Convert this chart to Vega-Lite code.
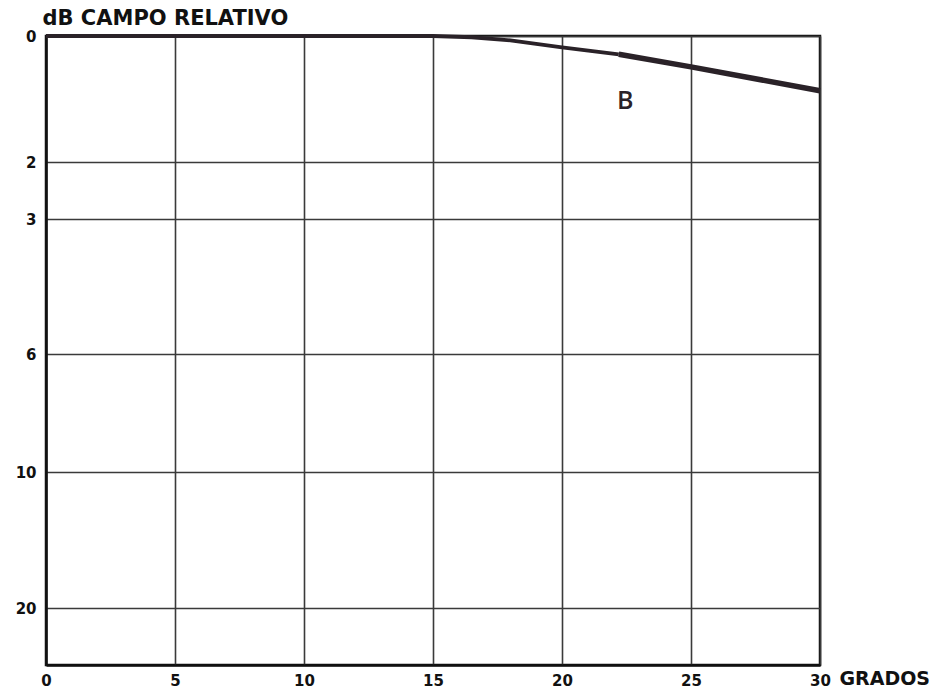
{
  "$schema": "https://vega.github.io/schema/vega-lite/v6.json",
  "autosize": "none",
  "width": 774,
  "height": 629,
  "padding": {"left": 46, "top": 36, "right": 123, "bottom": 24},
  "background": "white",
  "config": {
    "view": {"stroke": "#111", "strokeWidth": 2.5},
    "font": "DejaVu Sans"
  },
  "data": {
    "values": [
      {"grados": 0, "db": 0},
      {"grados": 5, "db": 0},
      {"grados": 10, "db": 0},
      {"grados": 15, "db": 0},
      {"grados": 16.5, "db": 0.02},
      {"grados": 18, "db": 0.07},
      {"grados": 20, "db": 0.18},
      {"grados": 22.2, "db": 0.29},
      {"grados": 25, "db": 0.49},
      {"grados": 30, "db": 0.87}
    ]
  },
  "encoding": {
    "x": {
      "field": "grados",
      "type": "quantitative",
      "scale": {"domain": [0, 30], "nice": false, "zero": false},
      "axis": {
        "values": [0, 5, 10, 15, 20, 25, 30],
        "grid": true,
        "gridColor": "#3a3a3a",
        "gridWidth": 1.6,
        "gridOpacity": 1,
        "ticks": false,
        "domainColor": "#111",
        "domainWidth": 2.5,
        "labelFont": "DejaVu Sans",
        "labelFontWeight": "bold",
        "labelFontSize": 15,
        "labelColor": "#111",
        "labelPadding": 8,
        "labelFlush": false,
        "title": "GRADOS",
        "titleFont": "DejaVu Sans",
        "titleFontWeight": "bold",
        "titleFontSize": 19,
        "titleColor": "#111",
        "titleAlign": "left",
        "titleBaseline": "alphabetic",
        "titleX": 793,
        "titleY": 19
      }
    },
    "y": {
      "field": "db",
      "type": "quantitative",
      "scale": {
        "domain": [0, 2, 3, 6, 10, 20, 24.2],
        "range": [0, 126, 183, 318, 436, 572, 629],
        "nice": false,
        "zero": false
      },
      "axis": {
        "values": [0, 2, 3, 6, 10, 20],
        "grid": true,
        "gridColor": "#3a3a3a",
        "gridWidth": 1.6,
        "gridOpacity": 1,
        "ticks": false,
        "domainColor": "#111",
        "domainWidth": 2.5,
        "labelFont": "DejaVu Sans",
        "labelFontWeight": "bold",
        "labelFontSize": 15,
        "labelColor": "#111",
        "labelPadding": 10,
        "labelFlush": false,
        "title": "dB CAMPO RELATIVO",
        "titleFont": "DejaVu Sans",
        "titleFontWeight": "bold",
        "titleFontSize": 21,
        "titleColor": "#111",
        "titleAngle": 0,
        "titleAlign": "left",
        "titleBaseline": "alphabetic",
        "titleX": -4,
        "titleY": -12
      }
    }
  },
  "layer": [
    {
      "transform": [{"filter": "datum.grados <= 22.2"}],
      "mark": {"type": "line", "color": "#2a2228", "strokeWidth": 3.8, "clip": false}
    },
    {
      "transform": [{"filter": "datum.grados >= 22.2"}],
      "mark": {"type": "line", "color": "#2a2228", "strokeWidth": 5.5, "clip": false}
    },
    {
      "data": {"values": [{"grados": 22.45, "db": 1.03, "label": "B"}]},
      "mark": {"type": "text", "font": "Open Sans", "fontWeight": 600, "fontSize": 25, "color": "#2a2228", "align": "center", "baseline": "middle"},
      "encoding": {"text": {"field": "label"}}
    }
  ]
}
